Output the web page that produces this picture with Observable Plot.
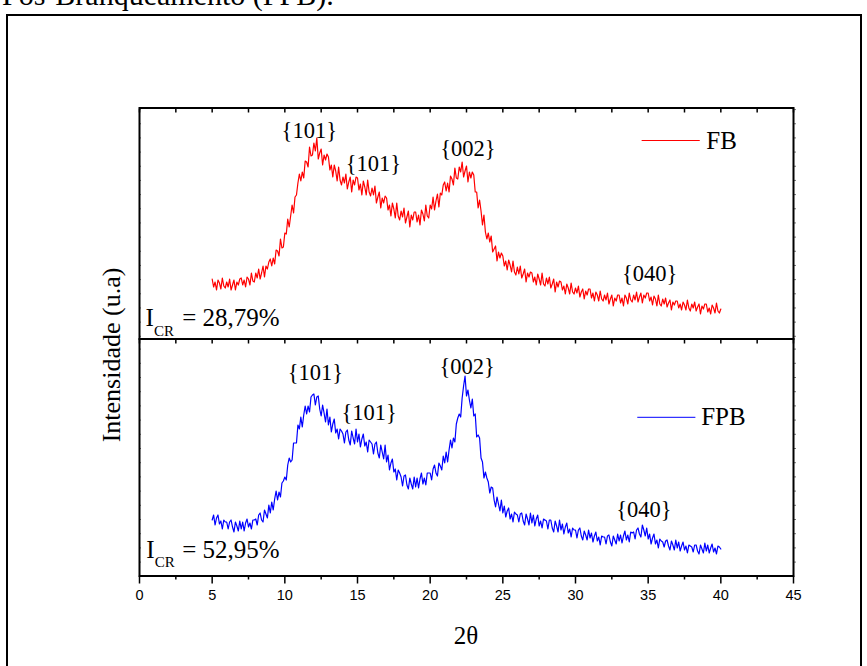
<!DOCTYPE html>
<html>
<head>
<meta charset="utf-8">
<script src="https://cdn.jsdelivr.net/npm/d3@7"></script>
<script src="https://cdn.jsdelivr.net/npm/@observablehq/plot@0.6"></script>
<style>
  body { margin: 0; background: #fff; }
  #wrap { position: relative; width: 867px; height: 666px; overflow: hidden; background: #fff; }
  .serif { font-family: "Liberation Serif", "Times New Roman", serif; color: #000; position: absolute; white-space: nowrap; }
  #title { left: 2px; top: -22px; font-size: 30px; }
  #box { position: absolute; left: 6px; top: 14px; width: 856px; height: 720px; border: 2px solid #000; box-sizing: border-box; }
  #ylab { font-size: 26px; left: 112px; top: 355px; transform: translate(-50%, -50%) rotate(-90deg); }
  #xlab { font-size: 25px; left: 466px; top: 636px; transform: translate(-50%, -50%); }
  .layer { position: absolute; left: 0; top: 0; }
</style>
</head>
<body>
<div id="wrap">
  <div class="serif" id="title">Pós-Branqueamento (FPB).</div>
  <div id="box"></div>
  <div class="layer" id="upper"></div>
  <div class="layer" id="lower"></div>
  <div class="serif" id="ylab">Intensidade (u.a)</div>
  <div class="serif" id="xlab">2θ</div>
</div>
<script>
// ---- data (2θ grid: start 5°, step 0.1°) ----
const thetaStart = 5.0;
const thetaStep = 0.1;

// FB (red, upper panel) intensity, arbitrary units
const fbIntensity = [
  60,52,57,49,59,56,50,61,53,51,
  57,52,60,49,54,59,49,57,54,60,
  61,54,59,52,62,60,54,66,58,57,
  66,61,70,60,66,73,62,73,70,77,
  80,73,81,75,89,88,83,100,91,92,
  106,105,120,112,123,134,126,142,144,156,
  165,158,167,161,178,177,172,192,183,184,
  196,188,201,180,186,190,174,184,179,185,
  182,169,174,162,174,168,158,172,159,154,
  162,156,165,150,157,162,147,159,154,162,
  161,149,155,144,158,152,144,159,147,143,
  151,144,153,136,142,147,131,141,136,143,
  141,129,134,123,136,130,121,136,123,119,
  128,122,131,116,122,128,112,124,119,127,
  127,117,124,114,129,125,118,134,123,121,
  134,130,142,129,138,145,132,146,144,154,
  157,148,156,147,163,160,154,171,161,160,
  172,167,177,162,168,173,157,167,161,167,
  164,147,147,131,139,128,114,124,107,100,
  106,97,103,87,90,93,78,87,81,86,
  83,73,78,69,79,74,67,78,67,64,
  72,65,73,61,65,70,57,66,62,67,
  66,57,62,54,65,60,54,66,55,53,
  61,55,62,51,55,60,47,57,52,58,
  57,49,53,45,55,51,45,56,47,45,
  51,46,53,42,47,50,40,48,44,50,
  50,41,46,38,47,44,38,48,40,38,
  44,39,46,35,40,44,33,41,38,44,
  44,36,41,33,44,41,35,46,39,37,
  44,39,47,37,42,46,36,44,41,46,
  46,38,42,34,43,40,33,44,35,33,
  40,35,41,32,36,39,29,37,34,38,
  38,31,35,29,37,34,29,39,31,28,
  35,31,37,28,32,35,25,33,30,35,
  35,27,31,25,34,31,26,36,28,26,
  30
];

// FPB (blue, lower panel) intensity, arbitrary units
const fpbIntensity = [
  56,61,51,58,61,52,55,47,56,54,
  54,47,54,56,49,44,54,50,45,55,
  47,54,45,53,57,49,53,47,56,56,
  57,51,61,63,56,54,66,62,58,71,
  63,74,66,77,85,76,84,79,93,95,
  99,96,111,118,114,116,133,133,133,151,
  147,159,149,161,170,162,170,164,179,181,
  182,171,179,180,167,160,171,163,154,167,
  151,159,144,152,157,143,147,137,147,145,
  142,133,144,146,136,131,145,138,132,147,
  134,142,129,137,142,130,134,124,136,134,
  132,122,132,134,123,118,131,124,117,131,
  114,121,106,113,117,104,107,96,106,103,
  99,90,100,101,91,87,98,92,87,99,
  89,98,88,97,103,92,98,91,103,103,
  103,96,107,111,103,100,113,110,106,120,
  113,124,114,126,136,128,138,134,152,158,
  162,159,178,190,200,180,186,176,168,177,
  160,162,139,141,138,118,114,98,104,98,
  94,83,89,88,76,69,79,72,65,76,
  63,70,59,65,68,57,62,54,64,62,
  61,54,62,63,55,51,62,57,51,63,
  53,61,50,57,61,50,55,48,57,56,
  55,47,56,56,48,44,55,50,44,56,
  46,52,42,49,53,43,47,39,48,46,
  46,38,46,48,40,36,45,41,36,46,
  38,43,34,40,44,35,39,31,40,39,
  39,32,40,41,34,30,40,36,32,42,
  35,41,33,40,45,36,41,34,44,43,
  44,37,46,48,42,39,51,46,40,48,
  37,42,32,38,42,32,36,28,37,35,
  34,29,35,36,30,26,35,31,26,36,
  28,34,25,30,34,26,30,23,31,30,
  29,24,31,31,25,22,31,27,23,33,
  25,31,23,28,32,24,28,22,30,29,
  27
];

// x axis ticks
const xTickLabels = [0, 5, 10, 15, 20, 25, 30, 35, 40, 45];
const xMinorTicks = [2.5, 7.5, 12.5, 17.5, 22.5, 27.5, 32.5, 37.5, 42.5];
const xAllTicks = [0, 2.5, 5, 7.5, 10, 12.5, 15, 17.5, 20, 22.5, 25, 27.5, 30, 32.5, 35, 37.5, 40, 42.5, 45];

// peak annotations
const peakLabels = ["{101}", "{101}", "{002}", "{040}"];
const fbPeakTheta = [11.68, 16.1, 22.6, 35.1];
const fbPeakInt = [208.5, 175.3, 190.3, 65.3];
const fpbPeakTheta = [12.1, 15.8, 22.55, 34.7];
const fpbPeakInt = [203.5, 162.8, 209.5, 66.5];

// legend
const seriesNames = ["FB", "FPB"];
const seriesColors = ["#ff0000", "#0000ff"];
const legendLineTheta = [[34.55, 38.55], [34.25, 38.25]];
const legendTextTheta = [39.0, 38.65];
const legendInt = [198.5, 158.7];

// crystallinity index
const icrValues = ["= 28,79%", "= 52,95%"];
const icrTheta = [0.42, 0.47];
const icrSubTheta = [1.0, 1.05];
const icrEqTheta = [2.94, 2.94];
const icrInt = [21.5, 26.3];
const icrSubInt = [8.3, 14.1];

// y domains of the two stacked panels
const fbYDomain = [0, 231];
const fpbYDomain = [0, 237];

const W = 867, H = 666;
const mL = 139, mR = 74;
const upperTop = 107.5, divider = 338.5, bottom = 575.5;

function series(vals) {
  return vals.map((v, i) => ({ theta: thetaStart + i * thetaStep, v }));
}
const serif = "Liberation Serif, Times New Roman, serif";
const noText = () => "";

function panel(idx, vals, yDomain, top, bot, peakTheta, peakInt, withBottomAxis) {
  const n = peakLabels.length;
  const peaks = d3.range(n).map(i => ({ t: peakTheta[i], v: peakInt[i], s: peakLabels[i] }));
  const yTicks = idx === 0 ? d3.range(2.7, yDomain[1], 14.17) : d3.range(13.9, yDomain[1], 14.2);
  const marks = [
    Plot.line(series(vals), { x: "theta", y: "v", stroke: seriesColors[idx], strokeWidth: 1.2 }),
    Plot.text(peaks, { x: "t", y: "v", text: "s", fontSize: 22.5, fontFamily: serif, fill: "#000" }),
    Plot.link([0], { x1: () => legendLineTheta[idx][0], x2: () => legendLineTheta[idx][1], y1: () => legendInt[idx], y2: () => legendInt[idx], stroke: seriesColors[idx], strokeWidth: 1 }),
    Plot.text([seriesNames[idx]], { x: () => legendTextTheta[idx], y: () => legendInt[idx], text: d => d, textAnchor: "start", fontSize: 25, fontFamily: serif, fill: "#000" }),
    Plot.text(["I"], { x: () => icrTheta[idx], y: () => icrInt[idx], text: d => d, textAnchor: "start", fontSize: 25, fontFamily: serif, fill: "#000" }),
    Plot.text(["CR"], { x: () => icrSubTheta[idx], y: () => icrSubInt[idx], text: d => d, textAnchor: "start", fontSize: 15, fontFamily: serif, fill: "#000" }),
    Plot.text([icrValues[idx]], { x: () => icrEqTheta[idx], y: () => icrInt[idx], text: d => d, textAnchor: "start", fontSize: 25, fontFamily: serif, fill: "#000" }),
    Plot.axisX(xAllTicks, { anchor: "top", tickSize: -4, tickFormat: noText, strokeWidth: 1.5 }),
    Plot.axisY(yTicks, { anchor: "left", tickSize: -2, tickFormat: noText, stroke: "#777" }),
    Plot.axisY(yTicks, { anchor: "right", tickSize: 2, tickFormat: noText, stroke: "#777" }),
    Plot.frame({ stroke: "#000", strokeWidth: 2 })
  ];
  if (withBottomAxis) {
    marks.push(Plot.axisX(xTickLabels, { anchor: "bottom", tickSize: 8, tickPadding: 6, fontSize: 14.5, fontFamily: "Liberation Sans, Arial, sans-serif", fill: "#000", strokeWidth: 1.5 }));
    marks.push(Plot.axisX(xMinorTicks, { anchor: "bottom", tickSize: 4, tickFormat: noText, strokeWidth: 1.5 }));
  }
  return Plot.plot({
    width: W, height: H,
    marginLeft: mL, marginRight: mR, marginTop: top, marginBottom: H - bot,
    x: { domain: [0, 45], label: null },
    y: { domain: yDomain, label: null },
    style: { background: "transparent", overflow: "visible" },
    marks
  });
}

document.getElementById("upper").appendChild(
  panel(0, fbIntensity, fbYDomain, upperTop, divider, fbPeakTheta, fbPeakInt, false));
document.getElementById("lower").appendChild(
  panel(1, fpbIntensity, fpbYDomain, divider, bottom, fpbPeakTheta, fpbPeakInt, true));
</script>
</body>
</html>
